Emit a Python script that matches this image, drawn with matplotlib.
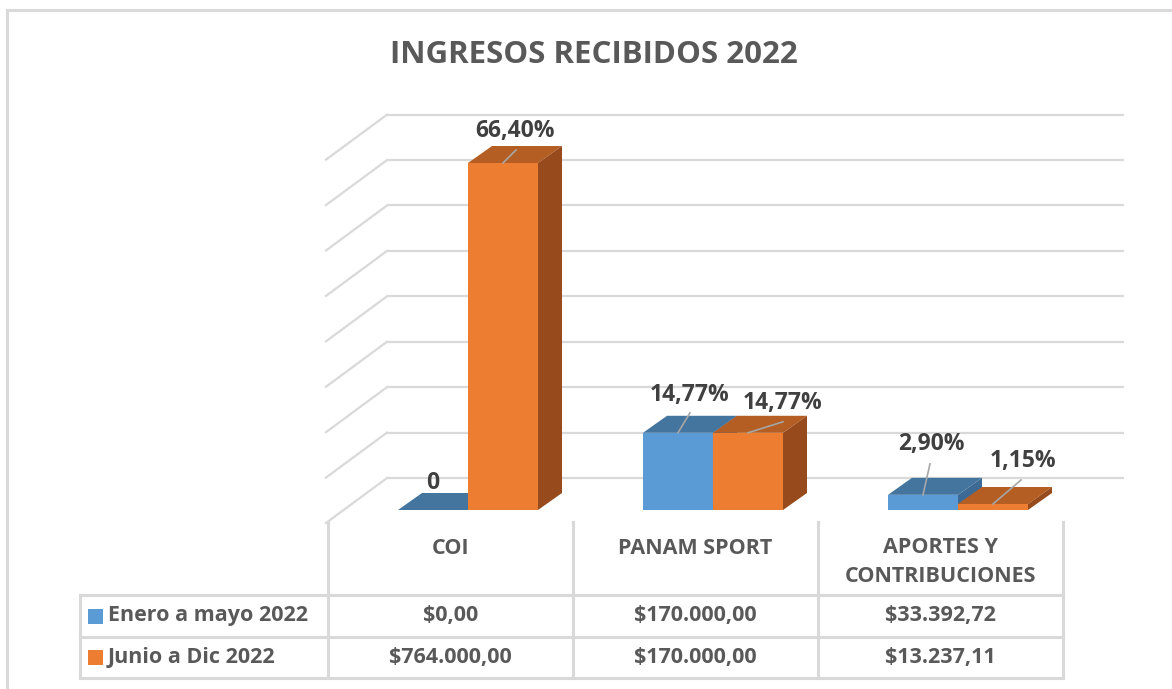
#!/usr/bin/env python3
import matplotlib
matplotlib.use('Agg')
import matplotlib.pyplot as plt
from matplotlib.patches import Polygon, Rectangle
from matplotlib.lines import Line2D

# --- data ---
categories = ['COI', 'PANAM SPORT', 'APORTES Y\nCONTRIBUCIONES']
series_names = ['Enero a mayo 2022', 'Junio a Dic 2022']
enero_mayo = [0.00, 170000.00, 33392.72]
junio_dic = [764000.00, 170000.00, 13237.11]

# --- style ---
FONT = ['Open Sans', 'DejaVu Sans']
plt.rcParams['font.family'] = FONT
GRID = '#D9D9D9'
TXT = '#595959'
LBL = '#404040'
FACES = [
    ('#5B9BD5', '#44759F', '#3D6A94'),   # front, top, side
    ('#ED7D31', '#B55E23', '#974B1C'),
]

W, H = 1172, 689
fig = plt.figure(figsize=(W / 100, H / 100), dpi=100)


def fx(px):
    return px / W


def fy(py):
    return 1 - py / H


# plot area: pixel box and linear mapping, join of bar pair at 468px, 245px per category
AX_L, AX_R, AX_T, AX_B = 300, 1150, 90, 540
PX_X = 245.0                  # px per category
PX_Y = 347.0 / 764000.0       # px per unit value
X0PX, Y0PX = 468, 510         # px of (category 0, value 0)

ax = fig.add_axes([fx(AX_L), fy(AX_B), (AX_R - AX_L) / W, (AX_B - AX_T) / H])
ax.set_xlim((AX_L - X0PX) / PX_X, (AX_R - X0PX) / PX_X)
ax.set_ylim((Y0PX - AX_B) / PX_Y, (Y0PX - AX_T) / PX_Y)
ax.axis('off')


def dx(px):
    return px / PX_X


def dy(px):
    return px / PX_Y


# back wall gridlines with side-wall diagonals
for v in range(0, 900000, 100000):
    yb = v + dy(32)
    ax.plot([dx(387 - X0PX), dx(1124 - X0PX)], [yb, yb], color=GRID, lw=1.6,
            solid_capstyle='butt', zorder=1)
    ax.plot([dx(326 - X0PX), dx(387 - X0PX)], [yb - dy(45), yb], color=GRID, lw=1.6,
            zorder=1)

# 3D-looking bars
bw = dx(70)
ddx, ddy = dx(24), dy(17)
total = sum(enero_mayo) + sum(junio_dic)
# label placement per series/category (px offsets from front-top centre): label, leader end
label_off = [
    [((0, -27), None), ((12, -38), (12, -20)), ((8, -51), (7, -31))],
    [((12, -32), (13, -13)), ((35, -30), (35, -11)), ((30, -43), (28, -24))],
]

for s, vals in enumerate([enero_mayo, junio_dic]):
    front, top, side = FACES[s]
    for i, v in enumerate(vals):
        xl = i - bw if s == 0 else i
        xr = xl + bw
        ax.add_patch(Rectangle((xl, 0), bw, v, facecolor=front, edgecolor='none', zorder=3))
        ax.add_patch(Polygon([(xl, v), (xr, v), (xr + ddx, v + ddy), (xl + ddx, v + ddy)],
                             closed=True, facecolor=top, edgecolor='none', zorder=3))
        ax.add_patch(Polygon([(xr, 0), (xr + ddx, ddy), (xr + ddx, v + ddy), (xr, v)],
                             closed=True, facecolor=side, edgecolor='none', zorder=3))
        cx = (xl + xr) / 2
        (lx, ly), lead = label_off[s][i]
        txt = '0' if v == 0 else f'{v / total * 100:.2f}%'.replace('.', ',')
        ax.text(cx + dx(lx), v - dy(ly), txt, ha='center', va='center', fontsize=16.5,
                fontweight='bold', color=LBL, zorder=5)
        if lead is not None:
            ax.plot([cx, cx + dx(lead[0])], [v, v - dy(lead[1])], color='#A6A6A6', lw=1.2,
                    zorder=4)

# title
fig.text(fx(594), fy(55), 'INGRESOS RECIBIDOS 2022', ha='center', va='center',
         fontsize=22.5, fontweight='bold', color=TXT)

# outer chart border
for xs, ys in [([7, 7], [10, H]), ([7, W], [10, 10])]:
    fig.add_artist(Line2D([fx(x) for x in xs], [fy(y) for y in ys], color=GRID, lw=2.2))

# data table
col_x = [80, 328, 573, 818, 1063]
row_y = [522, 595, 637, 678]
for x in col_x[1:]:
    fig.add_artist(Line2D([fx(x), fx(x)], [fy(row_y[0]), fy(row_y[-1])], color=GRID, lw=2.2))
fig.add_artist(Line2D([fx(col_x[0])] * 2, [fy(row_y[1]), fy(row_y[-1])], color=GRID, lw=2.2))
for y in row_y[1:]:
    fig.add_artist(Line2D([fx(col_x[0]), fx(col_x[-1])], [fy(y), fy(y)], color=GRID, lw=2.2))


def money(v):
    return '$' + f'{v:,.2f}'.replace(',', '#').replace('.', ',').replace('#', '.')


for i, cat in enumerate(categories):
    cxp = (col_x[i + 1] + col_x[i + 2]) / 2
    fig.text(fx(cxp), fy(562 if '\n' in cat else 549), cat, ha='center', va='center',
             fontsize=15.5, fontweight='bold', color=TXT, linespacing=1.55)
    for r, vals in enumerate([enero_mayo, junio_dic]):
        ry = (row_y[r + 1] + row_y[r + 2]) / 2
        fig.text(fx(cxp), fy(ry), money(vals[i]), ha='center', va='center',
                 fontsize=15.5, fontweight='bold', color=TXT)

for r, name in enumerate(series_names):
    ry = (row_y[r + 1] + row_y[r + 2]) / 2
    fig.add_artist(Rectangle((fx(88), fy(ry + 7.5)), 15 / W, 15 / H,
                             facecolor=FACES[r][0], edgecolor='none',
                             transform=fig.transFigure))
    fig.text(fx(108), fy(ry), name, ha='left', va='center', fontsize=15.5,
             fontweight='bold', color=TXT)

fig.savefig('out.png', dpi=100)
